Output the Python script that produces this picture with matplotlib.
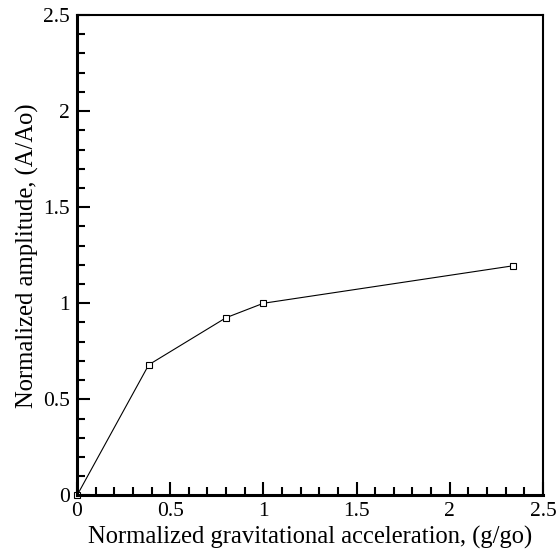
import numpy as np
from matplotlib import pyplot as plt
from matplotlib.ticker import MultipleLocator

# dati
g_norm = [0.0, 0.385, 0.80, 1.0, 2.34]
amp_norm = [0.0, 0.68, 0.925, 1.0, 1.195]

plt.rcParams['font.family'] = 'Liberation Serif'

fig = plt.figure(figsize=(5.58, 5.52), dpi=100)
ax = fig.add_axes([0.138, 0.1024, 0.835, 0.8705])

ax.plot(g_norm, amp_norm, color='black', linewidth=0.8, marker='s', markersize=4,
        markerfacecolor='white', markeredgecolor='black', markeredgewidth=0.8, clip_on=False)

ax.set_xlim(0, 2.5)
ax.set_ylim(0, 2.5)
ax.xaxis.set_major_locator(MultipleLocator(0.5))
ax.yaxis.set_major_locator(MultipleLocator(0.5))
ax.xaxis.set_minor_locator(MultipleLocator(0.1))
ax.yaxis.set_minor_locator(MultipleLocator(0.1))
ax.xaxis.set_major_formatter(plt.FuncFormatter(lambda v, p: '%g' % v))
ax.yaxis.set_major_formatter(plt.FuncFormatter(lambda v, p: '%g' % v))

ax.tick_params(which='both', direction='in', top=False, right=False, labelsize=15.5, width=1.5)
ax.tick_params(which='major', length=9.5)
ax.tick_params(axis='x', which='major', pad=5)
ax.tick_params(axis='y', which='major', pad=5)
ax.tick_params(which='minor', length=5.5)

ax.spines['left'].set_linewidth(2.2)
ax.spines['bottom'].set_linewidth(2.2)
ax.spines['top'].set_linewidth(1.5)
ax.spines['right'].set_linewidth(1.5)

ax.set_xlabel('Normalized gravitational acceleration, (g/go)', fontsize=17.7, labelpad=3)
ax.set_ylabel('Normalized amplitude, (A/Ao)', fontsize=17.7, labelpad=3)

fig.savefig('out.png', dpi=100)
